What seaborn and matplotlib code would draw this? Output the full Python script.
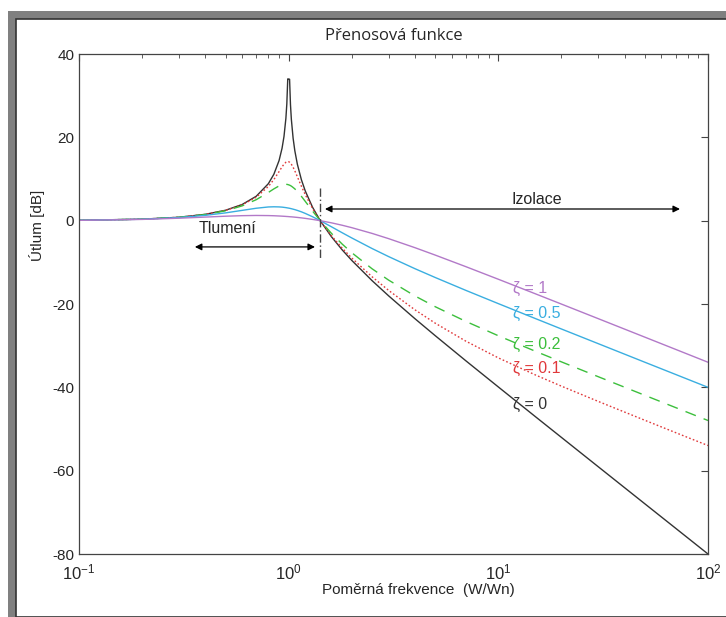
# Prenosova funkce - transmissibility plot
import numpy as np
import pandas as pd
import matplotlib
matplotlib.use('Agg')
import matplotlib.pyplot as plt
from matplotlib.patches import Rectangle
import seaborn as sns

sns.set_style('white')
plt.rcParams['font.family'] = ['Liberation Sans', 'DejaVu Sans']
plt.rcParams['mathtext.fontset'] = 'custom'
plt.rcParams['mathtext.rm'] = 'Liberation Sans'
plt.rcParams['axes.unicode_minus'] = False

# relative frequency W/Wn
freq = [0.1, 0.2, 0.3, 0.4, 0.5, 0.6, 0.7, 0.8, 0.85, 0.9, 0.93, 0.95, 0.97,
        0.98, 0.99, 1.0, 1.01, 1.02, 1.03, 1.05, 1.07, 1.1, 1.15, 1.2, 1.3,
        1.414, 1.6, 1.8, 2, 2.5, 3, 4, 5, 7, 10, 15, 20, 30, 50, 70, 100]

# attenuation [dB]
db_z0 = [0.09, 0.36, 0.82, 1.52, 2.50, 3.88, 5.85, 8.87, 11.14, 14.43, 17.39,
         20.22, 24.57, 28.05, 34.02, 34.0, 33.94, 27.87, 24.31, 19.79, 16.78,
         13.56, 9.83, 7.13, 3.22, 0.0, -3.86, -7.01, -9.54, -14.40, -18.06,
         -23.52, -27.60, -33.63, -39.91, -47.01, -52.02, -59.08, -67.96,
         -73.80, -80.0]
db_z01 = [0.09, 0.35, 0.82, 1.50, 2.47, 3.79, 5.62, 8.20, 9.87, 11.78, 12.92,
          13.56, 14.02, 14.15, 14.19, 14.15, 14.02, 13.82, 13.54, 12.82, 11.95,
          10.54, 8.27, 6.24, 2.93, 0.0, -3.62, -6.59, -8.97, -13.47, -16.75,
          -21.39, -24.60, -28.92, -32.93, -37.01, -39.72, -43.39, -47.91,
          -50.86, -53.97]
db_z02 = [0.09, 0.35, 0.81, 1.47, 2.37, 3.55, 5.03, 6.77, 7.63, 8.34, 8.61,
          8.71, 8.73, 8.71, 8.67, 8.60, 8.52, 8.41, 8.29, 7.97, 7.63, 7.01,
          5.84, 4.63, 2.31, 0.0, -3.05, -5.62, -7.69, -11.55, -14.28, -18.06,
          -20.65, -24.18, -27.62, -31.33, -33.89, -37.46, -41.92, -44.85,
          -47.96]
db_z05 = [0.09, 0.34, 0.75, 1.27, 1.87, 2.47, 2.98, 3.29, 3.33, 3.30, 3.25,
          3.19, 3.13, 3.09, 3.05, 3.01, 2.97, 2.92, 2.87, 2.76, 2.65, 2.46,
          2.12, 1.74, 0.94, 0.0, -1.47, -2.90, -4.15, -6.69, -8.63, -11.52,
          -13.64, -16.73, -19.91, -23.48, -26.00, -29.53, -33.98, -36.90,
          -40.00]
db_z1 = [0.08, 0.30, 0.59, 0.86, 1.07, 1.20, 1.25, 1.22, 1.18, 1.12, 1.08,
         1.05, 1.02, 1.00, 0.99, 0.97, 0.95, 0.93, 0.92, 0.88, 0.84, 0.78,
         0.67, 0.55, 0.30, 0.0, -0.52, -1.10, -1.68, -3.06, -4.32, -6.48,
         -8.26, -11.04, -14.06, -17.54, -20.02, -23.53, -27.96, -30.88,
         -33.98]

zeta_labels = ['ζ = 0', 'ζ = 0.1', 'ζ = 0.2', 'ζ = 0.5', 'ζ = 1']
label_y = [-44.0, -35.4, -29.8, -22.2, -16.2]

colors = ['#333333', '#e0393b', '#3cbf3c', '#3aaee0', '#b279c8']
styles = ['-', (0, (1.2, 1.6)), (0, (8, 6)), '-', '-']

fig = plt.figure(figsize=(7.26, 6.17), dpi=100)

# gray screenshot frame (top and left)
fig.patches.append(Rectangle((8 / 726, 0), 1, 1 - 11 / 617, transform=fig.transFigure,
                             facecolor='#808080', edgecolor='none', zorder=-10))
fig.patches.append(Rectangle((16 / 726, 0), 1, 1 - 19 / 617, transform=fig.transFigure,
                             facecolor='white', edgecolor='#333333', linewidth=1.2, zorder=-9))

ax = fig.add_axes([79 / 726, 63 / 617, 629 / 726, 500 / 617])
ax.set_facecolor('white')

series = [db_z0, db_z01, db_z02, db_z05, db_z1]
for i, vals in enumerate(series):
    df = pd.DataFrame({'freq': freq, 'db': vals})
    sns.lineplot(data=df, x='freq', y='db', ax=ax, color=colors[i], linestyle=styles[i],
                 linewidth=1.0, sort=False, estimator=None)
    ax.text(11.8, label_y[i], zeta_labels[i], color=colors[i], fontsize=11.5,
            va='center', ha='left')

ax.set_xscale('log')
ax.set_xlim(0.1, 100)
ax.set_ylim(-80, 40)
ax.set_yticks([-80, -60, -40, -20, 0, 20, 40])
ax.set_xlabel('')
ax.set_ylabel('')
ax.tick_params(axis='both', which='both', direction='in', top=True, right=True,
               labelsize=11, color='#444444')
ax.tick_params(axis='x', labelsize=12, pad=6)
ax.tick_params(which='major', length=5)
ax.tick_params(which='minor', length=3)
for s in ax.spines.values():
    s.set_color('#444444')
    s.set_linewidth(0.9)

# resonance boundary at sqrt(2)
ax.plot([1.414, 1.414], [7.8, -9.0], color='#444444', linewidth=1.0,
        linestyle=(0, (6, 2, 1, 2)))

# annotations
arrow = dict(arrowstyle='<|-|>', color='black', linewidth=0.9,
             mutation_scale=10, shrinkA=0, shrinkB=0)
ax.annotate('', xy=(0.357, -6.3), xytext=(1.335, -6.3), arrowprops=arrow)
ax.text(0.513, -1.8, 'Tlumení', ha='center', va='center', fontsize=11.5)
ax.annotate('', xy=(1.49, 2.8), xytext=(73.5, 2.8), arrowprops=arrow)
ax.text(15.3, 5.0, 'Izolace', ha='center', va='center', fontsize=11.5)

fig.text(393.5 / 726, 1 - 36 / 617, 'Přenosová funkce', ha='center', va='center',
         fontsize=12, family=['Open Sans', 'DejaVu Sans'])
fig.text(418 / 726, 1 - 590 / 617, 'Poměrná frekvence  (W/Wn)', ha='center',
         va='center', fontsize=11)
fig.text(37 / 726, 1 - 225 / 617, 'Útlum [dB]', ha='center', va='center',
         rotation=90, fontsize=11)

fig.savefig('out.png', dpi=100)
